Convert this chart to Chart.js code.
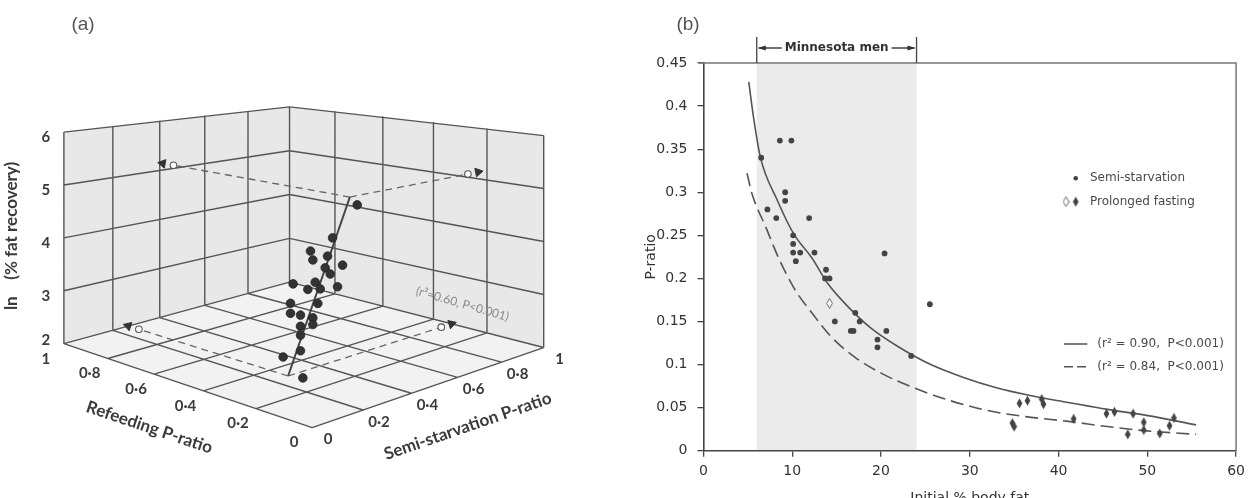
<!DOCTYPE html>
<html>
<head>
<meta charset="utf-8">
<script src="https://cdn.jsdelivr.net/npm/chart.js@4.4.1/dist/chart.umd.min.js"></script>
<style>
    html, body { margin: 0; padding: 0; background: #fff; }
    #wrap { position: relative; width: 1251px; height: 498px; overflow: hidden; }
    #boxA { position: absolute; left: 0; top: 0; width: 640px; height: 498px; }
    #boxB { position: absolute; left: 640px; top: 0; width: 611px; height: 498px; }
</style>
</head>
<body>
<div id="wrap">
    <div id="boxA"><canvas id="chartA" width="640" height="498"></canvas></div>
    <div id="boxB"><canvas id="chartB" width="611" height="498"></canvas></div>
</div>
<script>
// ===== (a) 3D 散佈圖資料 =====
// 每個點: 復食 P-ratio, 半飢餓 P-ratio, ln(% 脂肪恢復)
const refeedP = [0.26, 0.30, 0.33, 0.33, 0.31, 0.28, 0.31, 0.30, 0.33, 0.32, 0.34, 0.29, 0.36, 0.32, 0.37, 0.37, 0.35, 0.33, 0.33, 0.35, 0.35, 0.35, 0.38, 0.35];
const semiP = [0.48, 0.42, 0.36, 0.37, 0.41, 0.44, 0.40, 0.41, 0.38, 0.39, 0.36, 0.43, 0.32, 0.38, 0.32, 0.32, 0.34, 0.37, 0.37, 0.34, 0.34, 0.34, 0.30, 0.35];
const lnFat = [4.90, 4.32, 4.11, 3.94, 3.99, 3.83, 3.79, 3.68, 3.53, 3.41, 3.41, 3.44, 3.53, 3.16, 3.17, 2.99, 2.96, 2.90, 2.78, 2.76, 2.60, 2.32, 2.22, 1.82];
// 迴歸線兩端 (下端, 上端)
const regRefeed = [0.37, 0.27];
const regSemi = [0.31, 0.46];
const regLn = [1.88, 5.05];
// 軸刻度
const pTicks = [0, 0.2, 0.4, 0.6, 0.8, 1];
const pTickLabels = ['0', '0·2', '0·4', '0·6', '0·8', '1'];
const lnTicks = [2, 3, 4, 5, 6];

// ===== (b) 資料 =====
const semiFat = [6.5, 7.2, 8.2, 8.6, 9.9, 9.2, 9.2, 10.1, 10.1, 10.1, 10.4, 10.9, 11.9, 12.5, 13.8, 13.7, 14.2, 14.8, 17.1, 17.6, 16.6, 16.9, 19.6, 19.6, 20.6, 20.4, 23.4, 25.5];
const semiRatio = [0.34, 0.28, 0.27, 0.36, 0.36, 0.30, 0.29, 0.25, 0.24, 0.23, 0.22, 0.23, 0.27, 0.23, 0.21, 0.20, 0.20, 0.15, 0.16, 0.15, 0.139, 0.139, 0.129, 0.12, 0.139, 0.229, 0.11, 0.17];
const fastFat = [34.8, 35.0, 35.6, 36.5, 38.1, 38.3, 41.7, 45.4, 46.3, 48.4, 47.8, 49.6, 49.6, 51.4, 52.5, 53.0];
const fastRatio = [0.032, 0.028, 0.055, 0.058, 0.060, 0.054, 0.037, 0.043, 0.045, 0.043, 0.019, 0.033, 0.024, 0.020, 0.029, 0.038];
const openFat = [14.2];
const openRatio = [0.171];
// 兩條迴歸曲線
const fitFat = [5.1, 5.65, 6.4, 8.3, 10.2, 12.2, 14.0, 16.3, 18.9, 21.9, 25.6, 29.3, 33.0, 36.8, 41.1, 45.5, 49.9, 55.5];
const fitRatio = [0.428, 0.386, 0.341, 0.291, 0.251, 0.224, 0.194, 0.167, 0.142, 0.121, 0.100, 0.085, 0.073, 0.064, 0.056, 0.048, 0.041, 0.030];
const fit2Fat = [4.9, 5.5, 7.0, 8.45, 10.3, 12.2, 14.4, 17.0, 20.0, 23.7, 27.5, 32.3, 36.7, 41.1, 45.5, 49.9, 55.5];
const fit2Ratio = [0.322, 0.297, 0.260, 0.224, 0.187, 0.160, 0.132, 0.109, 0.090, 0.073, 0.059, 0.046, 0.039, 0.034, 0.028, 0.023, 0.019];
const fatTicks = [0, 10, 20, 30, 40, 50, 60];
const ratioTicks = [0, 0.05, 0.1, 0.15, 0.2, 0.25, 0.3, 0.35, 0.4, 0.45];
const bandFrom = 6, bandTo = 24;

// ===== (a) 投影: (r, s, z) -> 畫布座標 =====
// 地板用透視 (homography), 高度依四個角做雙線性
const cam = { A: -243.1, B: 304.9, C: 312, D: -27.9, E: -38.0, F: 432, G: 0.1678, H: 0.1258 };
const hO = 63.6, hL = 54.2, hR = 54.3, hB = 44.9;
function proj(r, s, z) {
    let w = 1 + cam.G * r + cam.H * s;
    let x = (cam.A * r + cam.B * s + cam.C) / w;
    let y0 = (cam.D * r + cam.E * s + cam.F) / w;
    let h = hO * (1 - r) * (1 - s) + hL * r * (1 - s) + hR * (1 - r) * s + hB * r * s;
    return { x: x, y: y0 - (z - 2) * h };
}

let dotPts = refeedP.map((r, i) => proj(r, semiP[i], lnFat[i]));
let regPts = regRefeed.map((r, i) => proj(r, regSemi[i], regLn[i]));
let ends = regRefeed.map((r, i) => ({ r: r, s: regSemi[i], z: regLn[i] }));

// 虛線投影到左牆 (r=1) 與右牆 (s=1)
let guides = [];
let arrows = [];
let arrowRot = [];
ends.forEach(e => {
    [true, false].forEach(toLeft => {
        let p0 = proj(e.r, e.s, e.z);
        let p1 = toLeft ? proj(1, e.s, e.z) : proj(e.r, 1, e.z);
        let pa = toLeft ? proj(1.05, e.s, e.z) : proj(e.r, 1.05, e.z);
        guides.push([p0, p1]);
        arrows.push(pa);
        arrowRot.push(Math.atan2(pa.x - p0.x, -(pa.y - p0.y)) * 180 / Math.PI);
    });
});

const box3d = {
    id: 'box3d',
    beforeDraw(chart) {
        let ctx = chart.ctx, sx = chart.scales.x, sy = chart.scales.y;
        let pt = (r, s, z) => { let p = proj(r, s, z); return [sx.getPixelForValue(p.x), sy.getPixelForValue(p.y)]; };
        let poly = (pts, fill) => {
            ctx.beginPath();
            pts.forEach((q, i) => { let [x, y] = pt(...q); if (i) ctx.lineTo(x, y); else ctx.moveTo(x, y); });
            ctx.closePath();
            ctx.fillStyle = fill;
            ctx.fill();
        };
        let seg = (a, b) => { let [x1, y1] = pt(...a), [x2, y2] = pt(...b); ctx.moveTo(x1, y1); ctx.lineTo(x2, y2); };
        ctx.save();
        poly([[1, 0, 2], [1, 1, 2], [1, 1, 6], [1, 0, 6]], '#e8e8e8'); // 左牆
        poly([[1, 1, 2], [0, 1, 2], [0, 1, 6], [1, 1, 6]], '#e8e8e8'); // 右牆
        poly([[0, 0, 2], [1, 0, 2], [1, 1, 2], [0, 1, 2]], '#f2f2f2'); // 地板
        ctx.beginPath();
        pTicks.forEach(v => {
            seg([1, v, 2], [1, v, 6]);
            seg([v, 1, 2], [v, 1, 6]);
            seg([v, 0, 2], [v, 1, 2]);
            seg([0, v, 2], [1, v, 2]);
        });
        lnTicks.forEach(z => { seg([1, 0, z], [1, 1, z]); seg([1, 1, z], [0, 1, z]); });
        ctx.strokeStyle = '#555';
        ctx.lineWidth = 1.4;
        ctx.stroke();
        ctx.restore();
    },
    afterDraw(chart) {
        let ctx = chart.ctx, sx = chart.scales.x, sy = chart.scales.y;
        let pt = (r, s, z) => { let p = proj(r, s, z); return [sx.getPixelForValue(p.x), sy.getPixelForValue(p.y)]; };
        let rot = (text, x, y, ang, font, color) => {
            ctx.save();
            ctx.translate(x, y);
            ctx.rotate(ang);
            ctx.font = font;
            ctx.fillStyle = color;
            ctx.fillText(text, 0, 0);
            ctx.restore();
        };
        ctx.save();
        ctx.textAlign = 'center';
        ctx.textBaseline = 'middle';
        ctx.font = 'bold 15px Lato';
        ctx.fillStyle = '#3a3a3a';
        lnTicks.forEach(z => { let [x, y] = pt(1, 0, z); ctx.fillText(String(z), x - 18, y + (z === 2 ? -4 : 5)); });
        pTicks.forEach((v, i) => {
            let [x, y] = pt(v, 0, 2);
            ctx.fillText(pTickLabels[i], x - 18, y + 15);
            [x, y] = pt(0, v, 2);
            ctx.fillText(pTickLabels[i], x + 16, y + 12);
        });
        let [ax, ay] = pt(1, 0, 2), [ox, oy] = pt(0, 0, 2), [bx, by] = pt(0, 1, 2);
        let [mx, my] = pt(0.5, 0, 2);
        rot('Refeeding P-ratio', mx - 29, my + 45, Math.atan2(oy - ay, ox - ax), 'bold 17px Lato', '#3a3a3a');
        let [nx, ny] = pt(0, 0.5, 2);
        rot('Semi-starvation P-ratio', nx + 33, ny + 41, Math.atan2(by - oy, bx - ox), 'bold 17px Lato', '#3a3a3a');
        rot('ln    (% fat recovery)', 12, 236, -Math.PI / 2, 'bold 17px Lato', '#3a3a3a');
        let [qx, qy] = pt(0.29, 1, 2.45);
        rot('(r²=0.60, P<0.001)', qx, qy, 16 * Math.PI / 180, '12px Lato', '#8a8a8a');
        ctx.font = '19px "Liberation Sans"';
        ctx.fillStyle = '#555';
        ctx.fillText('(a)', 83, 25);
        ctx.restore();
    }
};

let guideSets = guides.map(g => ({
    data: g,
    showLine: true,
    borderColor: '#666',
    borderWidth: 1.3,
    borderDash: [7, 5],
    pointRadius: [0, 3.3],
    pointBackgroundColor: '#fff',
    pointBorderColor: '#555',
    pointBorderWidth: 1.1
}));

new Chart(document.getElementById('chartA'), {
    type: 'scatter',
    data: {
        datasets: [
            { data: dotPts, pointRadius: 4.3, backgroundColor: '#333', borderColor: '#222', borderWidth: 0.8 },
            { data: regPts, showLine: true, borderColor: '#444', borderWidth: 2, pointRadius: 0 },
            { data: arrows, pointStyle: 'triangle', pointRadius: 5, rotation: arrowRot, backgroundColor: '#333', borderColor: '#333', borderWidth: 1 },
            ...guideSets
        ]
    },
    options: {
        responsive: false,
        animation: false,
        layout: { padding: 0 },
        scales: {
            x: { type: 'linear', display: false, min: 0, max: 640 },
            y: { type: 'linear', display: false, min: 0, max: 498, reverse: true }
        },
        plugins: { legend: { display: false }, tooltip: { enabled: false } }
    },
    plugins: [box3d]
});

// ===== (b) =====
function diamond(filled) {
    let c = document.createElement('canvas');
    c.width = 7;
    c.height = 11;
    let g = c.getContext('2d');
    g.beginPath();
    g.moveTo(3.5, 0.6); g.lineTo(6.4, 5.5); g.lineTo(3.5, 10.4); g.lineTo(0.6, 5.5);
    g.closePath();
    if (filled) {
        g.fillStyle = '#444';
        g.fill();
    } else {
        g.fillStyle = '#fff';
        g.fill();
        g.strokeStyle = '#666';
        g.lineWidth = 1;
        g.stroke();
    }
    return c;
}
const diaFill = diamond(true);
const diaOpen = diamond(false);

const panelB = {
    id: 'panelB',
    beforeDraw(chart) {
        let { ctx, chartArea: a, scales: { x } } = chart;
        let x1 = x.getPixelForValue(bandFrom), x2 = x.getPixelForValue(bandTo);
        ctx.save();
        ctx.fillStyle = '#ebebeb';
        ctx.fillRect(x1, a.top, x2 - x1, a.bottom - a.top);
        ctx.restore();
    },
    afterDraw(chart) {
        let { ctx, chartArea: a, scales: { x } } = chart;
        ctx.save();
        // 上框與右框
        ctx.strokeStyle = '#777';
        ctx.lineWidth = 1.5;
        ctx.beginPath();
        ctx.moveTo(a.left - 5, a.top);
        ctx.lineTo(a.right, a.top);
        ctx.lineTo(a.right, a.bottom);
        ctx.stroke();
        // Minnesota men 標示
        let x1 = x.getPixelForValue(bandFrom), x2 = x.getPixelForValue(bandTo);
        let yb = a.top - 15;
        ctx.strokeStyle = '#444';
        ctx.lineWidth = 1.3;
        ctx.beginPath();
        ctx.moveTo(x1, a.top - 26); ctx.lineTo(x1, a.top);
        ctx.moveTo(x2, a.top - 26); ctx.lineTo(x2, a.top);
        ctx.font = 'bold 12px "DejaVu Sans"';
        let tw = ctx.measureText('Minnesota men').width;
        let cx = (x1 + x2) / 2;
        ctx.moveTo(x1 + 2, yb); ctx.lineTo(cx - tw / 2 - 3, yb);
        ctx.moveTo(cx + tw / 2 + 3, yb); ctx.lineTo(x2 - 2, yb);
        ctx.stroke();
        ctx.fillStyle = '#333';
        ctx.beginPath();
        ctx.moveTo(x1 + 1, yb); ctx.lineTo(x1 + 9, yb - 2.5); ctx.lineTo(x1 + 9, yb + 2.5); ctx.closePath();
        ctx.moveTo(x2 - 1, yb); ctx.lineTo(x2 - 9, yb - 2.5); ctx.lineTo(x2 - 9, yb + 2.5); ctx.closePath();
        ctx.fill();
        ctx.textAlign = 'center';
        ctx.textBaseline = 'middle';
        ctx.fillText('Minnesota men', cx, yb);
        // 圖例
        ctx.font = '12px "DejaVu Sans"';
        ctx.textAlign = 'left';
        ctx.beginPath();
        ctx.arc(435.7, 178.3, 2.3, 0, Math.PI * 2);
        ctx.fillStyle = '#444';
        ctx.fill();
        ctx.drawImage(diaOpen, 426 - 3.5, 201.7 - 5.5);
        ctx.drawImage(diaFill, 435.7 - 3.5, 201.7 - 5.5);
        ctx.fillStyle = '#4a4a4a';
        ctx.fillText('Semi-starvation', 450, 178.3);
        ctx.fillText('Prolonged fasting', 450, 201.7);
        ctx.strokeStyle = '#555';
        ctx.lineWidth = 1.5;
        ctx.beginPath();
        ctx.moveTo(424, 344); ctx.lineTo(447.3, 344);
        ctx.stroke();
        ctx.setLineDash([9, 4]);
        ctx.beginPath();
        ctx.moveTo(424, 366.7); ctx.lineTo(447.3, 366.7);
        ctx.stroke();
        ctx.setLineDash([]);
        ctx.fillText('(r² = 0.90,  P<0.001)', 457.3, 344);
        ctx.fillText('(r² = 0.84,  P<0.001)', 457.3, 366.7);
        // 標題
        ctx.font = '19px "Liberation Sans"';
        ctx.textAlign = 'center';
        ctx.fillStyle = '#555';
        ctx.fillText('(b)', 48, 25);
        ctx.restore();
    }
};

const tickFont = { family: 'DejaVu Sans', size: 14 };

new Chart(document.getElementById('chartB'), {
    type: 'scatter',
    data: {
        datasets: [
            { label: 'Semi-starvation', data: semiFat.map((v, i) => ({ x: v, y: semiRatio[i] })), pointRadius: 2.9, backgroundColor: '#444', borderWidth: 0 },
            { label: 'Prolonged fasting', data: fastFat.map((v, i) => ({ x: v, y: fastRatio[i] })), pointStyle: diaFill },
            { label: 'Prolonged fasting (open)', data: openFat.map((v, i) => ({ x: v, y: openRatio[i] })), pointStyle: diaOpen },
            { label: 'fit 1', data: fitFat.map((v, i) => ({ x: v, y: fitRatio[i] })), showLine: true, cubicInterpolationMode: 'monotone', borderColor: '#555', borderWidth: 1.6, pointRadius: 0 },
            { label: 'fit 2', data: fit2Fat.map((v, i) => ({ x: v, y: fit2Ratio[i] })), showLine: true, cubicInterpolationMode: 'monotone', borderColor: '#555', borderWidth: 1.6, borderDash: [13, 6], pointRadius: 0 }
        ]
    },
    options: {
        responsive: false,
        animation: false,
        layout: { padding: { top: 63, right: 10, left: 0, bottom: 0 } },
        scales: {
            x: {
                type: 'linear', min: 0, max: 60,
                afterBuildTicks: s => { s.ticks = fatTicks.map(v => ({ value: v })); },
                afterFit: s => { s.height = 47.3; },
                ticks: { font: tickFont, color: '#333', padding: 6, maxRotation: 0 },
                grid: { drawOnChartArea: false, tickLength: 6, color: '#444', lineWidth: 1.3 },
                border: { color: '#444', width: 1.6 },
                title: { display: true, text: 'Initial % body fat', font: { family: 'DejaVu Sans', size: 14 }, color: '#333', padding: { top: 0, bottom: -9 } }
            },
            y: {
                type: 'linear', min: 0, max: 0.45,
                afterBuildTicks: s => { s.ticks = ratioTicks.map(v => ({ value: v })); },
                afterFit: s => { s.width = 63.5; },
                ticks: { font: tickFont, color: '#333', padding: 10, callback: v => String(v) },
                grid: { drawOnChartArea: false, tickLength: 6, color: '#444', lineWidth: 1.3 },
                border: { color: '#444', width: 1.6 },
                title: { display: true, text: 'P-ratio', font: { family: 'DejaVu Sans', size: 14 }, color: '#333', padding: { top: 3, bottom: 0 } }
            }
        },
        plugins: { legend: { display: false }, tooltip: { enabled: false } }
    },
    plugins: [panelB]
});
</script>
</body>
</html>
